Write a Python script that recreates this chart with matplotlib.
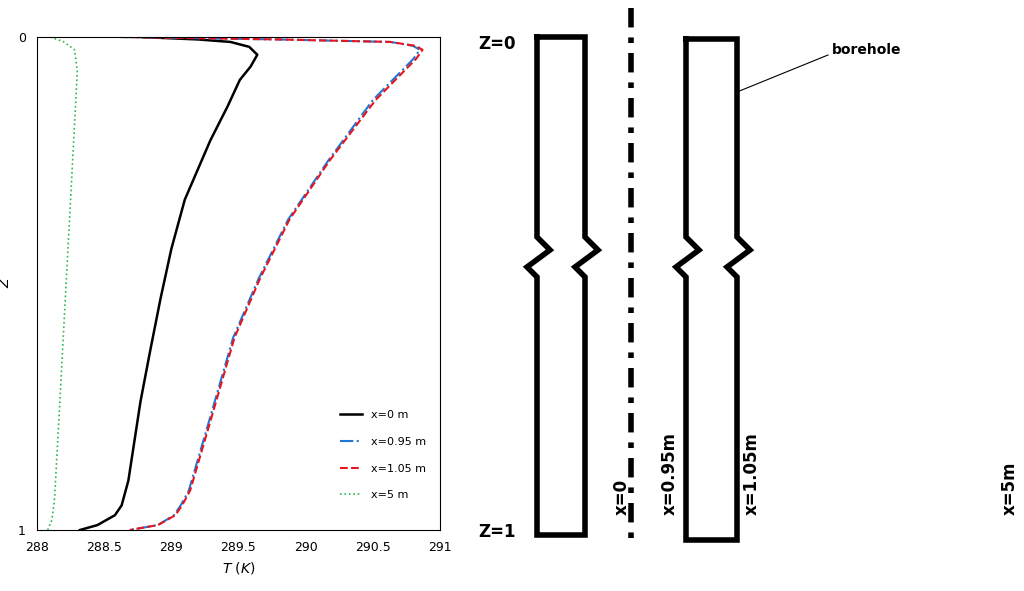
import matplotlib
matplotlib.use("Agg")
import matplotlib.pyplot as plt

# data (T in K, z normalized depth)
z0 = [0, 0.005, 0.01, 0.02, 0.036, 0.06, 0.087, 0.14, 0.21, 0.33, 0.43, 0.53, 0.64, 0.74, 0.9, 0.95, 0.97, 0.99, 1.0]
T0 = [288.77, 289.2, 289.44, 289.58, 289.64, 289.59, 289.51, 289.42, 289.29, 289.1, 289.0, 288.92, 288.84, 288.77, 288.68, 288.63, 288.58, 288.45, 288.32]
z1 = [0, 0.005, 0.01, 0.018, 0.026, 0.045, 0.067, 0.128, 0.25, 0.37, 0.49, 0.61, 0.78, 0.92, 0.95, 0.97, 0.99, 1.0]
T095 = [288.62, 289.8, 290.63, 290.80, 290.85, 290.80, 290.72, 290.50, 290.17, 289.87, 289.65, 289.46, 289.28, 289.13, 289.07, 289.02, 288.9, 288.69]
T105 = [288.62, 289.8, 290.63, 290.82, 290.87, 290.82, 290.74, 290.52, 290.18, 289.88, 289.66, 289.47, 289.29, 289.14, 289.08, 289.03, 288.9, 288.69]
z5 = [0, 0.01, 0.026, 0.07, 0.33, 0.74, 0.94, 0.98, 1.0]
T5 = [288.1, 288.2, 288.28, 288.3, 288.25, 288.17, 288.13, 288.11, 288.08]

fig = plt.figure(figsize=(10.24, 5.91), dpi=100)
ax = fig.add_axes([37/1024, 1-530/591, 403/1024, 493/591])
ax.plot(T0, z0, color='black', lw=1.8, label='x=0 m')
ax.plot(T095, z1, color='#1f77d4', lw=1.5, ls='-.', label='x=0.95 m')
ax.plot(T105, z1, color='#e8141e', lw=1.5, ls='--', label='x=1.05 m')
ax.plot(T5, z5, color='#2db84a', lw=1.2, ls=':', label='x=5 m')
ax.set_xlim(288, 291)
ax.set_ylim(1, 0)
ax.set_yticks([0, 1])
ax.set_xticks([288, 288.5, 289, 289.5, 290, 290.5, 291])
ax.set_xticklabels(['288', '288.5', '289', '289.5', '290', '290.5', '291'])
ax.tick_params(labelsize=9, length=0)
ax.tick_params(axis='y', pad=8)
ax.tick_params(axis='x', pad=8)
ax.set_ylabel('Z', style='italic', fontsize=10)
ax.set_xlabel('$T$ ($K$)', fontsize=10)
ax.legend(loc='lower right', frameon=False, fontsize=8, bbox_to_anchor=(0.99, 0.04), labelspacing=1.5)

# schematic overlay
s = fig.add_axes([0, 0, 1, 1])
s.set_xlim(0, 1024); s.set_ylim(591, 0); s.axis('off')
def borehole(xl, xr, yt, yb, yz):
    xs = [xl, xr, xr, xr + 13, xr - 10, xr, xr, xl, xl, xl - 10, xl + 13, xl, xl]
    ys = [yt, yt, yz - 25, yz - 12, yz + 5, yz + 15, yb, yb, yz + 15, yz + 5, yz - 12, yz - 25, yt]
    s.plot(xs, ys, color='black', lw=4, solid_joinstyle='miter')
borehole(537, 585, 37, 535, 262)
borehole(686, 737, 39, 540, 262)
s.plot([631, 631], [8, 548], color='black', lw=4, ls=(0, (3.5, 1.8, 1, 1.8)))
s.plot([737, 828], [92, 55], color='black', lw=0.8)
s.text(832, 50, 'borehole', fontsize=10, fontweight='bold', va='center')
s.text(478, 44, 'Z=0', fontsize=12, fontweight='bold', va='center')
s.text(478, 532, 'Z=1', fontsize=12, fontweight='bold', va='center')
for x, t in [(622, 'x=0'), (670, 'x=0.95m'), (752, 'x=1.05m'), (1010, 'x=5m')]:
    s.text(x, 515, t, fontsize=12, fontweight='bold', rotation=90, ha='center', va='bottom')
fig.savefig('out.png', dpi=100)
